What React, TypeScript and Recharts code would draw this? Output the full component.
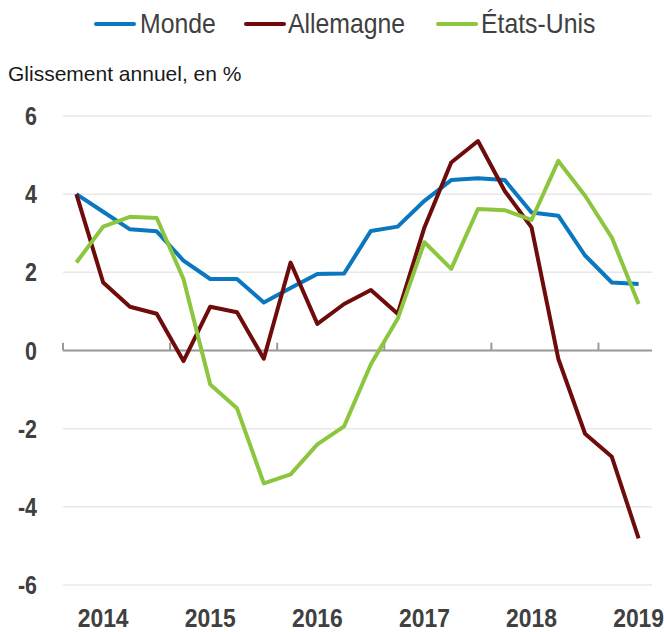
import { LineChart, Line, XAxis, YAxis, CartesianGrid, ReferenceLine, Legend } from 'recharts'

// quarterly, year-on-year change in %
const quarters = [
  '2014T1', '2014T2', '2014T3', '2014T4',
  '2015T1', '2015T2', '2015T3', '2015T4',
  '2016T1', '2016T2', '2016T3', '2016T4',
  '2017T1', '2017T2', '2017T3', '2017T4',
  '2018T1', '2018T2', '2018T3', '2018T4',
  '2019T1', '2019T2',
]
const years = [2014, 2015, 2016, 2017, 2018, 2019]
const monde = [4.0, 3.55, 3.1, 3.05, 2.3, 1.83, 1.83, 1.23, 1.6, 1.96, 1.97, 3.06, 3.17, 3.83, 4.36, 4.41, 4.36, 3.53, 3.45, 2.43, 1.74, 1.7]
const allemagne = [4.0, 1.74, 1.12, 0.94, -0.27, 1.12, 0.98, -0.21, 2.25, 0.68, 1.19, 1.55, 0.94, 3.15, 4.81, 5.36, 4.08, 3.15, -0.21, -2.13, -2.72, -4.81]
const etatsUnis = [2.25, 3.17, 3.42, 3.39, 1.83, -0.87, -1.48, -3.4, -3.17, -2.4, -1.94, -0.35, 0.81, 2.77, 2.09, 3.62, 3.59, 3.34, 4.85, 3.96, 2.89, 1.19]
const yTicks = [-6, -4, -2, 0, 2, 4, 6]

const series = [
  { key: 'monde', name: 'Monde', color: '#0a77bf' },
  { key: 'allemagne', name: 'Allemagne', color: '#6e0b0b' },
  { key: 'etatsUnis', name: 'États-Unis', color: '#8cc63f' },
]

const data = quarters.map((q, i) => ({
  q,
  pos: i + 0.5,
  monde: monde[i],
  allemagne: allemagne[i],
  etatsUnis: etatsUnis[i],
}))

const yearStarts = years.map((_, i) => i * 4)
const yearLabelPos = years.map((_, i) => i * 4 + 1.5)

const FONT = "'Liberation Sans', Arial, sans-serif"
const TEXT = '#404040'

// narrow look: Liberation Sans squeezed horizontally
const XTick = ({ x, y, payload }: any) => (
  <g transform={`translate(${x},${y + 42}) scale(0.88,1)`}>
    <text x={0} y={0} textAnchor="middle" fill={TEXT} fontSize={26} fontWeight="bold" fontFamily={FONT}>
      {years[Math.floor(payload.value / 4)]}
    </text>
  </g>
)

const YTick = ({ x, y, payload }: any) => (
  <g transform={`translate(${x - 26},${y + 9}) scale(0.84,1)`}>
    <text x={0} y={0} textAnchor="end" fill={TEXT} fontSize={25.5} fontWeight="bold" fontFamily={FONT}>
      {payload.value}
    </text>
  </g>
)

// legend item positions (icon start, text start)
const legendX = [[94, 140], [244, 288], [436, 481]]

const LegendContent = () => (
  <svg width={664} height={44}>
    {series.map((s, i) => (
      <g key={s.key}>
        <line x1={legendX[i][0] + 2} y1={24} x2={legendX[i][0] + 40} y2={24} stroke={s.color} strokeWidth={4} strokeLinecap="round" />
        <g transform={`translate(${legendX[i][1]},33.3) scale(0.87,1)`}>
          <text x={0} y={0} fill={TEXT} fontSize={28.5} fontFamily={FONT}>{s.name}</text>
        </g>
      </g>
    ))}
  </svg>
)

export default function App() {
  return (
    <div style={{ position: 'absolute', left: 0, top: 0, width: 664, height: 632, background: '#fff' }}>
      <div
        style={{
          position: 'absolute',
          left: 8,
          top: 63,
          fontFamily: FONT,
          fontSize: 21,
          lineHeight: '21px',
          color: '#1a1a1a',
          whiteSpace: 'nowrap',
        }}
      >
        Glissement annuel, en %
      </div>
      <LineChart width={664} height={632} data={data} margin={{ top: 116, right: 12, bottom: 7, left: 0 }}>
        <CartesianGrid vertical={false} stroke="#e8e8e8" strokeWidth={1.5} />
        <XAxis
          type="number"
          dataKey="pos"
          domain={[0, quarters.length]}
          ticks={yearLabelPos}
          axisLine={false}
          tickLine={false}
          tickSize={0}
          tickMargin={0}
          height={40}
          tick={<XTick />}
        />
        <YAxis
          domain={[-6, 6]}
          ticks={yTicks}
          axisLine={false}
          tickLine={false}
          tickSize={0}
          tickMargin={0}
          width={63}
          tick={<YTick />}
        />
        <ReferenceLine y={0} stroke="#9a9a9a" strokeWidth={2} />
        {yearStarts.map((b) => (
          <ReferenceLine
            key={b}
            segment={[{ x: b, y: 0 }, { x: b, y: 0.2 }]}
            stroke="#9a9a9a"
            strokeWidth={2}
          />
        ))}
        <Legend
          verticalAlign="middle"
          content={<LegendContent />}
          wrapperStyle={{ top: 0, left: 0, width: 664, height: 44 }}
        />
        {series.map((s) => (
          <Line
            key={s.key}
            type="linear"
            dataKey={s.key}
            name={s.name}
            stroke={s.color}
            strokeWidth={4}
            strokeLinejoin="round"
            dot={false}
            activeDot={false}
            isAnimationActive={false}
          />
        ))}
      </LineChart>
    </div>
  )
}
